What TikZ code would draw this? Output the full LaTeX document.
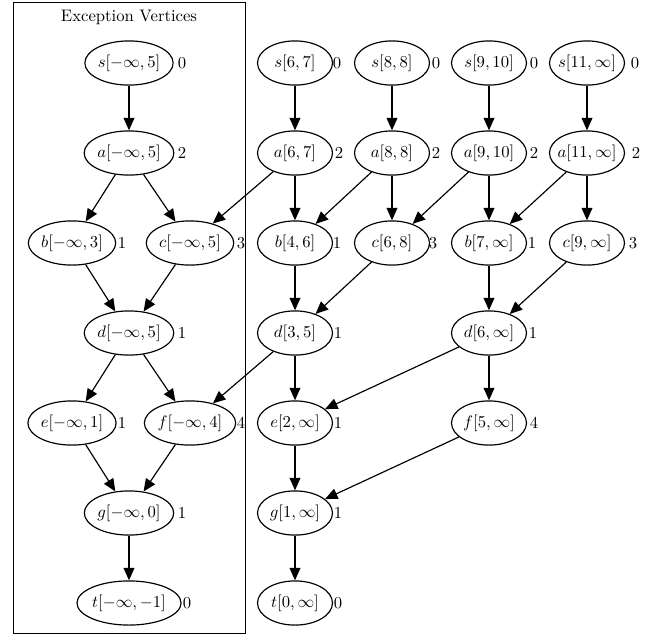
\documentclass[tikz,border=0pt]{standalone}
\usepackage{amsmath}
\usepackage{tikz}
\usetikzlibrary{shapes.geometric, arrows.meta}

\tikzset{
  vtx/.style={ellipse, draw, line width=0.7pt, inner sep=0pt, minimum width=45pt, minimum height=26.5pt},
  tight/.style={inner xsep=-4pt},
  num/.style={inner sep=0pt},
  link/.style={line width=0.7pt, -{Triangle[length=7.5pt,width=6.5pt]}}
}

\begin{document}
\begin{tikzpicture}[x=0.6pt, y=-0.6pt]
\useasboundingbox (0,0) rectangle (663,637);

% exception vertices
\draw[line width=0.5pt] (13,2) rectangle (245,633);
\node (title) at (129,17) {Exception Vertices};

\node[vtx] (s0) at (129,63) {$s[-\infty,5]$};
\node[vtx] (a0) at (129,153) {$a[-\infty,5]$};
\node[vtx] (b0) at (72,243) {$b[-\infty,3]$};
\node[vtx] (c0) at (190,243) {$c[-\infty,5]$};
\node[vtx] (d0) at (129,333) {$d[-\infty,5]$};
\node[vtx] (e0) at (72,423) {$e[-\infty,1]$};
\node[vtx] (f0) at (190,423) {$f[-\infty,4]$};
\node[vtx] (g0) at (129,513) {$g[-\infty,0]$};
\node[vtx] (t0) at (129,603) {$t[-\infty,-1]$};

\node[num] (ns0) at (182,63) {0};
\node[num] (na0) at (182,153) {2};
\node[num] (nb0) at (122,243) {1};
\node[num] (nc0) at (241,243) {3};
\node[num] (nd0) at (182,333) {1};
\node[num] (ne0) at (122,423) {1};
\node[num] (nf0) at (241,423) {4};
\node[num] (ng0) at (182,513) {1};
\node[num] (nt0) at (187,603) {0};

% column 2
\node[vtx] (s1) at (295,63) {$s[6,7]$};
\node[vtx] (a1) at (295,153) {$a[6,7]$};
\node[vtx] (b1) at (295,243) {$b[4,6]$};
\node[vtx] (d1) at (295,333) {$d[3,5]$};
\node[vtx] (e1) at (295,423) {$e[2,\infty]$};
\node[vtx] (g1) at (295,513) {$g[1,\infty]$};
\node[vtx] (t1) at (295,603) {$t[0,\infty]$};

\node[num] (ns1) at (337,63) {0};
\node[num] (na1) at (339,153) {2};
\node[num] (nb1) at (337,243) {1};
\node[num] (nd1) at (338,333) {1};
\node[num] (ne1) at (338,423) {1};
\node[num] (ng1) at (338,513) {1};
\node[num] (nt1) at (338,603) {0};

% column 3
\node[vtx] (s2) at (392,63) {$s[8,8]$};
\node[vtx] (a2) at (392,153) {$a[8,8]$};
\node[vtx] (c2) at (392,243) {$c[6,8]$};

\node[num] (ns2) at (436,63) {0};
\node[num] (na2) at (436,153) {2};
\node[num] (nc2) at (433,243) {3};

% column 4
\node[vtx] (s3) at (489,63) {$s[9,10]$};
\node[vtx] (a3) at (489,153) {$a[9,10]$};
\node[vtx] (b3) at (489,243) {$b[7,\infty]$};
\node[vtx] (d3) at (489,333) {$d[6,\infty]$};
\node[vtx] (f3) at (489,423) {$f[5,\infty]$};

\node[num] (ns3) at (534,63) {0};
\node[num] (na3) at (534,153) {2};
\node[num] (nb3) at (532,243) {1};
\node[num] (nd3) at (533,333) {1};
\node[num] (nf3) at (534,423) {4};

% column 5
\node[vtx,tight] (s4) at (587,63) {$s[11,\infty]$};
\node[vtx,tight] (a4) at (587,153) {$a[11,\infty]$};
\node[vtx,tight] (c4) at (587,243) {$c[9,\infty]$};

\node[num] (ns4) at (635,63) {0};
\node[num] (na4) at (636,153) {2};
\node[num] (nc4) at (633,243) {3};

% edges
\draw[link] (s0) -- (a0);
\draw[link] (a0) -- (b0);
\draw[link] (a0) -- (c0);
\draw[link] (b0) -- (d0);
\draw[link] (c0) -- (d0);
\draw[link] (d0) -- (e0);
\draw[link] (d0) -- (f0);
\draw[link] (e0) -- (g0);
\draw[link] (f0) -- (g0);
\draw[link] (g0) -- (t0);

\draw[link] (s1) -- (a1);
\draw[link] (s2) -- (a2);
\draw[link] (s3) -- (a3);
\draw[link] (s4) -- (a4);

\draw[link] (a1) -- (c0);
\draw[link] (a1) -- (b1);
\draw[link] (a2) -- (b1);
\draw[link] (a2) -- (c2);
\draw[link] (a3) -- (c2);
\draw[link] (a3) -- (b3);
\draw[link] (a4) -- (b3);
\draw[link] (a4) -- (c4);

\draw[link] (b1) -- (d1);
\draw[link] (c2) -- (d1);
\draw[link] (b3) -- (d3);
\draw[link] (c4) -- (d3);

\draw[link] (d1) -- (f0);
\draw[link] (d1) -- (e1);
\draw[link] (d3) -- (e1);
\draw[link] (d3) -- (f3);
\draw[link] (e1) -- (g1);
\draw[link] (f3) -- (g1);
\draw[link] (g1) -- (t1);
\end{tikzpicture}
\end{document}
